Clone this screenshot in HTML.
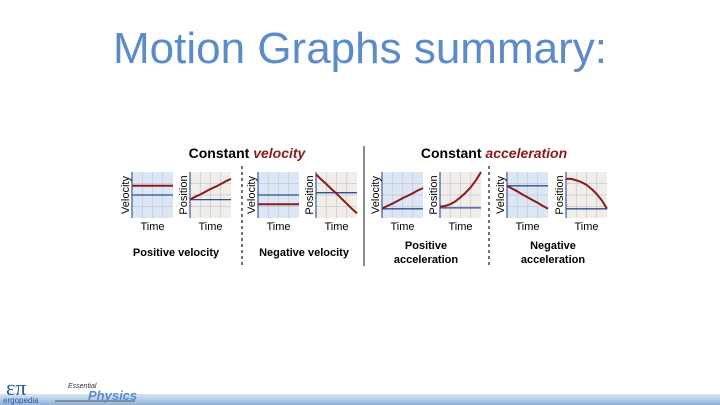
<!DOCTYPE html>
<html><head><meta charset="utf-8"><style>
body{margin:0;width:720px;height:405px;overflow:hidden;background:#fff;font-family:"Liberation Sans",sans-serif;position:relative}
#title{position:absolute;left:0;width:720px;top:24px;text-align:center;font-size:44px;color:#5b8bc9;padding-left:0}
</style></head><body>
<div id="title">Motion Graphs summary:</div>
<svg id="fig" width="720" height="405" style="position:absolute;left:0;top:0">
<defs><linearGradient id="fg" x1="0" y1="0" x2="0" y2="1"><stop offset="0" stop-color="#dbe6f3"/><stop offset="1" stop-color="#8fb0d8"/></linearGradient></defs>
<text x="247" y="158" font-size="14" font-weight="bold" text-anchor="middle">Constant <tspan fill="#8b1a1a" font-style="italic">velocity</tspan></text>
<text x="494" y="158" font-size="14" font-weight="bold" text-anchor="middle">Constant <tspan fill="#8b1a1a" font-style="italic">acceleration</tspan></text>
<line x1="364" y1="146" x2="364" y2="266" stroke="#666" stroke-width="1.5"/>
<line x1="242" y1="166" x2="242" y2="268" stroke="#444" stroke-width="1.5" stroke-dasharray="3,3"/>
<line x1="489" y1="166" x2="489" y2="268" stroke="#444" stroke-width="1.5" stroke-dasharray="3,3"/>
<g font-size="11" font-weight="bold" text-anchor="middle">
<text x="176" y="256">Positive velocity</text>
<text x="304" y="256">Negative velocity</text>
<text x="426" y="249">Positive</text>
<text x="426" y="263">acceleration</text>
<text x="553" y="249">Negative</text>
<text x="553" y="263">acceleration</text>
</g>
<rect x="0" y="394" width="720" height="11" fill="url(#fg)"/>
<line x1="55" y1="401" x2="135" y2="401" stroke="#333" stroke-width="0.7"/>
<text x="6" y="395" font-size="22" fill="#2a5aa0" font-family="Liberation Serif">επ</text>
<text x="3" y="403" font-size="8" fill="#2a5aa0">ergopedia</text>
<text x="68" y="388" font-size="7" font-style="italic" fill="#333">Essential</text>
<text x="88" y="400" font-size="13" font-style="italic" fill="#5b8bc9" font-weight="bold">Physics</text>
<g id="graphs"></g>
</svg>
<script>
// each graph's data, normalized 0..1 (time, value)
const kinds=["Velocity","Position","Velocity","Position","Velocity","Position","Velocity","Position"];
const gx=[132,190,258,316,382,440,507,566];
const baselines=[0.5,0.4,0.5,0.55,0.2,0.22,0.7,0.2];
const sTime=[0,0.125,0.25,0.375,0.5,0.625,0.75,0.875,1];
const s1=[0.7,0.7,0.7,0.7,0.7,0.7,0.7,0.7,0.7];
const s2=[0.4,0.46,0.51,0.57,0.63,0.68,0.74,0.8,0.85];
const s3=[0.3,0.3,0.3,0.3,0.3,0.3,0.3,0.3,0.3];
const s4=[0.95,0.84,0.74,0.63,0.53,0.42,0.31,0.2,0.1];
const s5=[0.2,0.26,0.31,0.37,0.43,0.48,0.54,0.6,0.65];
const s6=[0.25,0.26,0.3,0.36,0.45,0.55,0.67,0.82,1.0];
const s7=[0.7,0.64,0.58,0.51,0.45,0.39,0.33,0.26,0.2];
const s8=[0.85,0.85,0.82,0.78,0.72,0.63,0.52,0.38,0.2];
const series=[s1,s2,s3,s4,s5,s6,s7,s8];
const NS="http://www.w3.org/2000/svg";
const G=document.getElementById('graphs');
const W=41,H=46,TOP=172;
function mk(t,a){const e=document.createElementNS(NS,t);for(const k in a)e.setAttribute(k,a[k]);return e;}
kinds.forEach((k,i)=>{
  const x0=gx[i];
  const xs=v=>x0+v*W, ys=v=>TOP+H-v*H;
  const g=mk('g',{});
  
  
  const bg=mk('rect',{x:x0,y:TOP,width:W,height:H,fill:k=="Velocity"?"#dde6f5":"#f1ede8"});
  
  
  g.appendChild(bg);
  for(let j=1;j<4;j++){
    g.appendChild(mk('line',{x1:x0+j*W/4,y1:TOP,x2:x0+j*W/4,y2:TOP+H,stroke:"#c3c8d3","stroke-width":0.7}));
    g.appendChild(mk('line',{x1:x0,y1:TOP+j*H/4,x2:x0+W,y2:TOP+j*H/4,stroke:"#c3c8d3","stroke-width":0.7}));
  }
  const ax=mk('line',{x1:x0,y1:TOP,x2:x0,y2:TOP+H,stroke:"#3a5a9a","stroke-width":1.2});
  
  
  g.appendChild(ax);
  const bl=mk('line',{x1:x0,y1:ys(baselines[i]),x2:x0+W,y2:ys(baselines[i]),stroke:"#2f4f8f","stroke-width":1.3});
  
  
  g.appendChild(bl);
  const d=series[i].map((v,j)=>(j?'L':'M')+xs(sTime[j]).toFixed(1)+','+ys(v).toFixed(1)).join(' ');
  const p=mk('path',{d:d,fill:"none",stroke:"#8b1a1a","stroke-width":2,"stroke-linejoin":"round"});
  
  
  g.appendChild(p);
  const yl=mk('text',{x:0,y:0,transform:`translate(${x0-3},${TOP+H/2}) rotate(-90)`,"font-size":11,"text-anchor":"middle"});
  yl.textContent=k;
  
  
  g.appendChild(yl);
  const xl=mk('text',{x:x0+W/2,y:TOP+H+12,"font-size":11,"text-anchor":"middle"});
  xl.textContent="Time";
  
  
  g.appendChild(xl);
  G.appendChild(g);
});
</script>
</body></html>
